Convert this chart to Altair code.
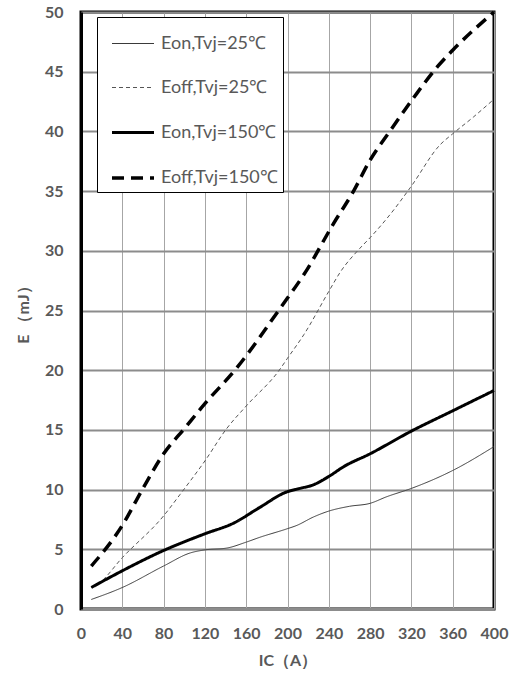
import altair as alt
import pandas as pd

series_names = ["Eon,Tvj=25℃", "Eoff,Tvj=25℃", "Eon,Tvj=150℃", "Eoff,Tvj=150℃"]

eon25_x = [10, 40, 80, 106, 120, 141, 160, 173, 199, 209, 225, 240, 260, 280, 296, 320, 360, 400]
eon25_y = [0.8, 1.8, 3.6, 4.7, 4.95, 5.1, 5.6, 6.0, 6.7, 7.0, 7.7, 8.2, 8.6, 8.85, 9.4, 10.1, 11.6, 13.6]

eoff25_x = [10, 18, 40, 80, 96, 120, 141, 160, 192, 200, 216, 240, 251, 270, 280, 299, 319, 348, 360, 380, 400]
eoff25_y = [1.8, 2.2, 4.3, 7.8, 9.6, 12.4, 15.1, 17.0, 20.0, 21.0, 23.0, 26.6, 28.2, 30.2, 31.1, 33.0, 35.3, 38.9, 39.8, 41.2, 42.7]

eon150_x = [10, 40, 80, 120, 148, 173, 199, 212, 225, 240, 254, 280, 320, 360, 400]
eon150_y = [1.8, 3.2, 4.9, 6.3, 7.2, 8.5, 9.8, 10.1, 10.4, 11.1, 11.9, 13.0, 14.9, 16.6, 18.3]

eoff150_x = [10, 40, 60, 80, 100, 120, 150, 193, 218, 244, 264, 280, 299, 322, 345, 360, 400]
eoff150_y = [3.6, 7.0, 10.1, 13.0, 15.1, 17.2, 20.1, 25.2, 28.3, 32.2, 35.0, 37.6, 40.0, 42.8, 45.4, 46.8, 50.0]

rows = []
for name, xs, ys in zip(series_names,
                        [eon25_x, eoff25_x, eon150_x, eoff150_x],
                        [eon25_y, eoff25_y, eon150_y, eoff150_y]):
    for i, (a, b) in enumerate(zip(xs, ys)):
        rows.append({"series": name, "IC": a, "E": b, "order": i})
df = pd.DataFrame(rows)

FONT = "Lato"
GRAY = "#595959"

leg = alt.Legend(
    title=None, orient="none", legendX=16, legendY=5,
    symbolType="stroke", symbolSize=1764, symbolOffset=8,
    labelFont=FONT, labelFontSize=18, labelColor=GRAY, labelOffset=5,
    padding=5, rowPadding=13, fillColor="white", strokeColor="black",
    labelLimit=300,
)

chart = alt.Chart(df).mark_line(interpolate="monotone").encode(
    x=alt.X("IC:Q", scale=alt.Scale(domain=[0, 400], nice=False),
            axis=alt.Axis(values=list(range(0, 401, 40)), title="IC（A）")),
    y=alt.Y("E:Q", scale=alt.Scale(domain=[0, 50], nice=False),
            axis=alt.Axis(values=list(range(0, 51, 5)), title="E （mJ）")),
    color=alt.Color("series:N", scale=alt.Scale(domain=series_names,
                    range=["#3a3a3a", "#555555", "black", "black"]), legend=leg),
    strokeDash=alt.StrokeDash("series:N", scale=alt.Scale(domain=series_names,
                    range=[[1, 0], [4, 3], [1, 0], [12, 7]]), legend=leg),
    strokeWidth=alt.StrokeWidth("series:N", scale=alt.Scale(type="ordinal", domain=series_names,
                    range=[1, 1, 3, 3.5]), legend=leg),
    order="order:Q",
).properties(
    width=413, height=597,
    autosize=alt.AutoSizeParams(type="none"),
    padding={"left": 81, "top": 12, "right": 24, "bottom": 70},
).configure_view(
    stroke="black", strokeWidth=3
).configure_axis(
    labelFont=FONT, labelFontWeight="bold", labelFontSize=16, labelColor=GRAY,
    titleFont=FONT, titleFontWeight="bold", titleFontSize=16, titleColor=GRAY,
    ticks=False, gridColor="#8c8c8c", labelOverlap=False, labelFlush=False,
).configure_axisY(
    gridWidth=2, domainColor="black", domainWidth=3, labelPadding=18, titlePadding=13,
).configure_axisX(
    gridWidth=1, gridColor="#a6a6a6", domainColor="#8c8c8c", domainWidth=3,
    labelPadding=16, titlePadding=11,
)

chart.save("out.html", embed_options={"renderer": "svg", "actions": False})
